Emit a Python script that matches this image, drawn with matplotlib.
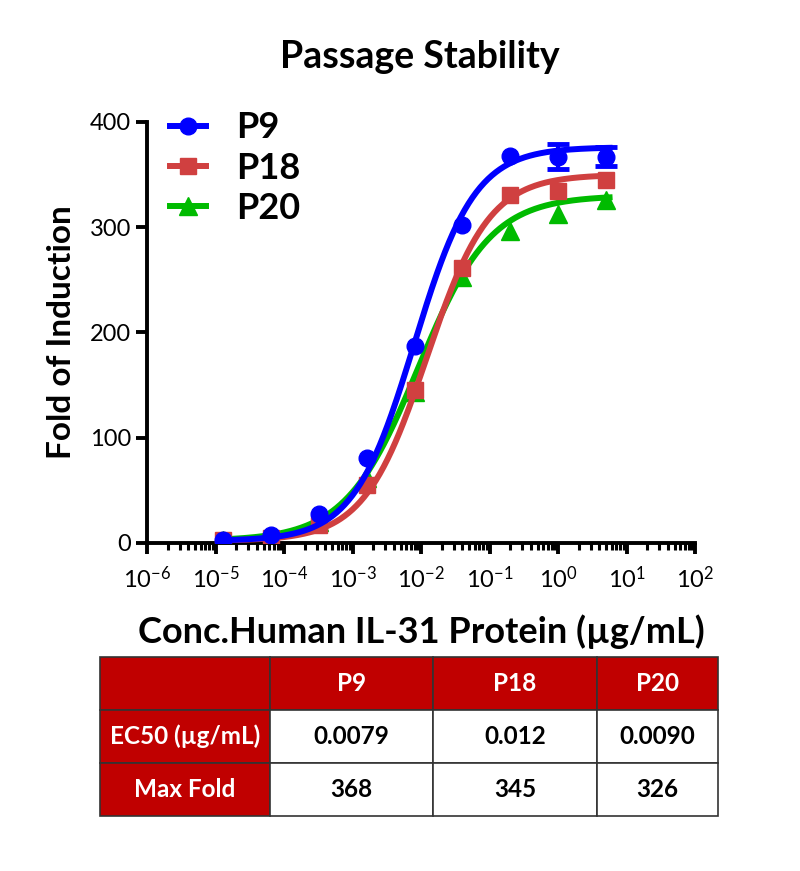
import numpy as np
import matplotlib
matplotlib.use('Agg')
import matplotlib.pyplot as plt

plt.rcParams['font.family'] = ['Lato', 'DejaVu Sans']
plt.rcParams['mathtext.default'] = 'regular'

# dose series (ug/mL), 5-fold dilutions
conc = [0.0000128, 0.000064, 0.00032, 0.0016, 0.008, 0.04, 0.2, 1.0, 5.0]
names = ['P9', 'P18', 'P20']
p9 = [3, 8, 28, 81, 187, 302, 368, 367, 367]
p18 = [3, 5, 17, 55, 145, 261, 331, 334, 345]
p20 = [3, 6, 20, 62, 143, 253, 296, 313, 326]
p9_err = [0, 0, 0, 0, 0, 0, 0, 12, 9]
p18_err = [0, 0, 0, 0, 0, 0, 0, 0, 0]
p20_err = [0, 0, 0, 0, 0, 0, 0, 0, 0]

# fitted 4PL parameters
ec50 = [0.0079, 0.012, 0.0090]
top = [376, 350, 330]
bottom = [2, 2, 2]
hill = [0.98, 0.95, 0.82]

# summary table
row_labels = ['EC50 (\u00b5g/mL)', 'Max Fold']
ec50_txt = ['0.0079', '0.012', '0.0090']
maxfold_txt = ['368', '345', '326']

colors = ['#0000FF', '#D04040', '#00BB00']
markers = ['o', 's', '^']
msizes = [12, 11.5, 13]
series = [p9, p18, p20]
errs = [p9_err, p18_err, p20_err]
zorders = [6, 5, 4]

fig = plt.figure(figsize=(8, 8.71), dpi=100)
ax = fig.add_axes([0.184, 0.3766, 0.685, 0.4834])

xs = np.logspace(-4.95, 0.75, 300)
for i in range(3):
    yfit = bottom[i] + (top[i] - bottom[i]) / (1 + (ec50[i] / xs) ** hill[i])
    ax.plot(xs, yfit, color=colors[i], lw=4.3, zorder=zorders[i])
    ax.plot(conc, series[i], ls='none', marker=markers[i], ms=msizes[i],
            color=colors[i], zorder=zorders[i])
    idx = [k for k in range(len(conc)) if errs[i][k] > 0]
    if idx:
        ax.errorbar([conc[k] for k in idx], [series[i][k] for k in idx],
                    yerr=[errs[i][k] for k in idx], fmt='none', ecolor=colors[i],
                    capsize=8, capthick=3.5, elinewidth=3, zorder=zorders[i])
    ax.plot([], [], color=colors[i], lw=4.3, marker=markers[i], ms=msizes[i], label=names[i])

ax.set_xscale('log')
ax.set_xlim(1e-6, 1e2)
ax.set_ylim(0, 400)
ax.set_yticks([0, 100, 200, 300, 400])
ax.set_xticks([10.0 ** k for k in range(-6, 3)])
ax.set_xticklabels(['$10^{%d}$' % k for k in range(-6, 3)])
ax.xaxis.set_minor_locator(matplotlib.ticker.LogLocator(base=10, subs=np.arange(2, 10), numticks=20))
ax.xaxis.set_minor_formatter(matplotlib.ticker.NullFormatter())

for s in ['top', 'right']:
    ax.spines[s].set_visible(False)
for s in ['left', 'bottom']:
    ax.spines[s].set_linewidth(2.8)
ax.tick_params(axis='both', which='major', width=2.8, length=8, labelsize=17, direction='out')
ax.tick_params(axis='x', which='minor', width=2.2, length=5, direction='out')
ax.tick_params(axis='x', which='major', pad=8)

ax.set_ylabel('Fold of Induction', fontsize=24, fontweight='bold', labelpad=10)
ax.set_xlabel('Conc.Human IL-31 Protein (\u00b5g/mL)', fontsize=26, fontweight='bold', labelpad=16)
fig.text(0.525, 0.935, 'Passage Stability', fontsize=27, fontweight='bold', ha='center', va='center')

leg = ax.legend(loc='upper left', bbox_to_anchor=(-0.005, 1.085), frameon=False,
                prop={'size': 26, 'weight': 'bold'}, handlelength=1.0, labelspacing=0.2,
                handletextpad=0.85, borderpad=0.2)

# table
tax = fig.add_axes([0.125, 0.0631, 0.7725, 0.1826])
tax.axis('off')
cells = [[''] + names, [row_labels[0]] + ec50_txt, [row_labels[1]] + maxfold_txt]
widths = [170, 163, 164, 121]
widths = [w / sum(widths) for w in widths]
tbl = tax.table(cellText=cells, colWidths=widths, bbox=[0, 0, 1, 1], cellLoc='center')
tbl.auto_set_font_size(False)
for (r, c), cell in tbl.get_celld().items():
    cell.set_edgecolor('#333333')
    cell.set_linewidth(1.2)
    txt = cell.get_text()
    txt.set_fontsize(17.5)
    txt.set_fontweight('bold')
    if r == 0 or c == 0:
        cell.set_facecolor('#C00000')
        txt.set_color('white')
    else:
        cell.set_facecolor('white')
        txt.set_color('black')

fig.savefig('out.png', dpi=100)
